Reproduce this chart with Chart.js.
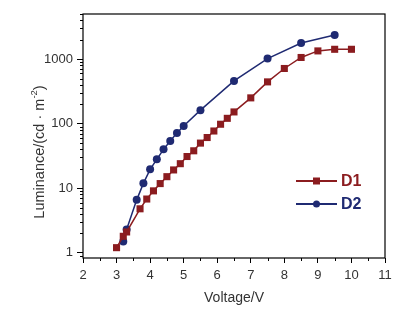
<!DOCTYPE html>
<html>
<head>
<meta charset="utf-8">
<script src="https://cdn.jsdelivr.net/npm/chart.js@4/dist/chart.umd.min.js"></script>
<style>
  html, body { margin: 0; padding: 0; background: #fff; }
  #wrap { width: 405px; height: 317px; }
</style>
</head>
<body>
<div id="wrap"><canvas id="lumChart" width="405" height="317"></canvas></div>
<script>
// ===== Data =====
const d1Voltage = [3.0, 3.2, 3.3, 3.7, 3.9, 4.1, 4.3, 4.5, 4.7, 4.9, 5.1, 5.3, 5.5, 5.7, 5.9, 6.1, 6.3, 6.5, 7.0, 7.5, 8.0, 8.5, 9.0, 9.5, 10.0];
const d1Lum     = [1.2, 1.8, 2.1, 4.8, 6.8, 9.1, 11.8, 15.1, 19.2, 24, 31, 38, 50, 61, 77, 98, 121, 152, 251, 444, 716, 1060, 1340, 1420, 1420];
const d2Voltage = [3.2, 3.3, 3.6, 3.8, 4.0, 4.2, 4.4, 4.6, 4.8, 5.0, 5.5, 6.5, 7.5, 8.5, 9.5];
const d2Lum     = [1.5, 2.3, 6.6, 11.9, 19.6, 28, 40, 54, 72, 92, 162, 460, 1020, 1780, 2370];

const xTicks = [2, 3, 4, 5, 6, 7, 8, 9, 10, 11];
const yTicks = [1, 10, 100, 1000];

const seriesNames = ['D1', 'D2'];
const seriesColors = ['#8b1c1f', '#1f2a72'];

const FONT = '"Liberation Sans", Arial, sans-serif';

const toPoints = (xs, ys) => xs.map((x, i) => ({ x: x, y: ys[i] }));

// ===== Frame, minor ticks, axis titles and legend =====
const framePlugin = {
    id: 'frame',
    afterDraw(chart) {
        const ctx = chart.ctx;
        const a = chart.chartArea;
        const xs = chart.scales.x, ys = chart.scales.y;
        ctx.save();
        ctx.strokeStyle = '#000';
        ctx.lineWidth = 1.2;
        ctx.strokeRect(a.left, a.top, a.right - a.left, a.bottom - a.top);

        // minor ticks
        ctx.lineWidth = 1;
        ctx.beginPath();
        for (let v = 2.5; v < 11; v += 1) {
            const px = Math.round(xs.getPixelForValue(v)) + 0.5;
            ctx.moveTo(px, a.bottom);
            ctx.lineTo(px, a.bottom + 3);
        }
        [0.1, 1, 10, 100, 1000].forEach(dec => {
            for (let m = 2; m <= 9; m++) {
                const v = dec * m;
                if (v < ys.min || v > ys.max) continue;
                const py = Math.round(ys.getPixelForValue(v)) + 0.5;
                ctx.moveTo(a.left, py);
                ctx.lineTo(a.left - 3, py);
            }
        });
        ctx.stroke();

        // axis titles
        ctx.fillStyle = '#333';
        ctx.textBaseline = 'middle';
        ctx.textAlign = 'center';
        ctx.font = '14px ' + FONT;
        ctx.fillText('Voltage/V', (a.left + a.right) / 2, 298);

        ctx.save();
        ctx.translate(40, 152);
        ctx.rotate(-Math.PI / 2);
        ctx.textAlign = 'left';
        const mainFont = '14.5px ' + FONT, supFont = '9.5px ' + FONT;
        const p1 = 'Luminance/(cd \u00b7 m', p2 = '-2', p3 = ')';
        ctx.font = mainFont; const w1 = ctx.measureText(p1).width, w3 = ctx.measureText(p3).width;
        ctx.font = supFont; const w2 = ctx.measureText(p2).width;
        let tx = -(w1 + w2 + w3) / 2;
        ctx.font = mainFont; ctx.fillText(p1, tx, 0); tx += w1;
        ctx.font = supFont; ctx.fillText(p2, tx, -6); tx += w2;
        ctx.font = mainFont; ctx.fillText(p3, tx, 0);
        ctx.restore();

        // legend
        const lx = 296, ly = [181, 204];
        ctx.textAlign = 'left';
        chart.data.datasets.forEach((ds, i) => {
            ctx.strokeStyle = ds.borderColor;
            ctx.fillStyle = ds.borderColor;
            ctx.lineWidth = 2;
            ctx.beginPath();
            ctx.moveTo(lx, ly[i]);
            ctx.lineTo(lx + 41, ly[i]);
            ctx.stroke();
            if (ds.pointStyle === 'rect') {
                ctx.fillRect(lx + 17, ly[i] - 3.5, 7, 7);
            } else {
                ctx.beginPath();
                ctx.arc(lx + 20.5, ly[i], 3.5, 0, Math.PI * 2);
                ctx.fill();
            }
            ctx.font = 'bold 16px ' + FONT;
            ctx.fillText(ds.label, lx + 45, ly[i] + 1);
        });
        ctx.restore();
    }
};

const ctx = document.getElementById('lumChart').getContext('2d');
const lumChart = new Chart(ctx, {
    type: 'line',
    data: {
        datasets: [{
            label: seriesNames[0],
            data: toPoints(d1Voltage, d1Lum),
            borderColor: seriesColors[0],
            backgroundColor: seriesColors[0],
            borderWidth: 1.5,
            pointStyle: 'rect',
            pointRadius: 5,
            pointBorderWidth: 0,
            fill: false
        }, {
            label: seriesNames[1],
            data: toPoints(d2Voltage, d2Lum),
            borderColor: seriesColors[1],
            backgroundColor: seriesColors[1],
            borderWidth: 1.5,
            pointStyle: 'circle',
            pointRadius: 4,
            pointBorderWidth: 0,
            fill: false
        }]
    },
    options: {
        responsive: false,
        animation: false,
        layout: { padding: { left: 0, top: 14, right: 20, bottom: 0 } },
        plugins: {
            legend: { display: false },
            tooltip: { enabled: false }
        },
        scales: {
            x: {
                type: 'linear',
                min: 2,
                max: 11,
                afterBuildTicks: s => { s.ticks = xTicks.map(v => ({ value: v })); },
                afterFit: s => { s.height = 59; },
                grid: { drawOnChartArea: false, drawTicks: true, tickLength: 5, color: '#000', tickWidth: 1 },
                border: { display: false },
                ticks: {
                    color: '#333',
                    padding: 5,
                    font: { family: FONT, size: 13 },
                    maxRotation: 0
                },
                title: { display: false }
            },
            y: {
                type: 'logarithmic',
                min: 0.83,
                max: 5000,
                afterBuildTicks: s => { s.ticks = yTicks.map(v => ({ value: v })); },
                afterFit: s => { s.width = 83; },
                grid: { drawOnChartArea: false, drawTicks: true, tickLength: 6, color: '#000', tickWidth: 1 },
                border: { display: false },
                ticks: {
                    color: '#333',
                    padding: 4,
                    font: { family: FONT, size: 13 },
                    callback: v => String(v)
                },
                title: { display: false }
            }
        }
    },
    plugins: [framePlugin]
});
</script>
</body>
</html>
